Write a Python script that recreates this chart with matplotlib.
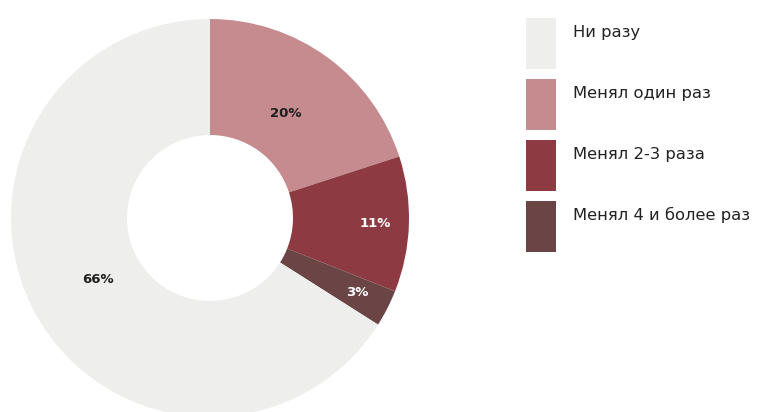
import matplotlib
matplotlib.use('Agg')
import matplotlib.pyplot as plt
from matplotlib.patches import Rectangle
import numpy as np

# Сколько раз меняли (доли, %)
categories = ['Ни разу', 'Менял один раз', 'Менял 2-3 раза', 'Менял 4 и более раз']
shares = [66, 20, 11, 3]
colors = ['#eeeeec', '#c58b8f', '#8d3a43', '#6b4446']
label_colors = ['#1e1e1e', '#1e1e1e', 'white', 'white']

plt.rcParams['font.family'] = ['DejaVu Sans']

W, H = 762, 412
fig = plt.figure(figsize=(W / 100, H / 100), dpi=100)

# donut, clockwise from 12 o'clock, starting with "один раз"
order = [1, 2, 3, 0]
cx, cy, R = 210, 218, 199
ax = fig.add_axes([(cx - R) / W, (H - cy - R) / H, 2 * R / W, 2 * R / H])
wedges, _ = ax.pie([shares[i] for i in order],
                   colors=[colors[i] for i in order],
                   startangle=90, counterclock=False, radius=1,
                   wedgeprops=dict(width=0.583, linewidth=0))
ax.set_xlim(-1, 1)
ax.set_ylim(-1, 1)
ax.set_aspect('equal')
ax.axis('off')

# percent labels inside the ring
label_r = [0.65, 0.83, 0.83, 0.645]
for w, i, r in zip(wedges, order, label_r):
    mid = np.deg2rad((w.theta1 + w.theta2) / 2)
    ax.text(r * np.cos(mid), r * np.sin(mid), f'{shares[i]}%',
            ha='center', va='center', fontsize=9.5, fontweight='bold',
            color=label_colors[i])

# legend: tall colour blocks with captions
lg = fig.add_axes([0, 0, 1, 1], zorder=-1)
lg.set_xlim(0, W)
lg.set_ylim(H, 0)
lg.axis('off')
for k, (name, c) in enumerate(zip(categories, colors)):
    top = 18 + 61 * k
    lg.add_patch(Rectangle((526, top), 30, 51, color=c, linewidth=0))
    lg.text(573, top + 14, name, ha='left', va='center',
            fontsize=11.8, color='#222222')

fig.savefig('out.png', dpi=100)
